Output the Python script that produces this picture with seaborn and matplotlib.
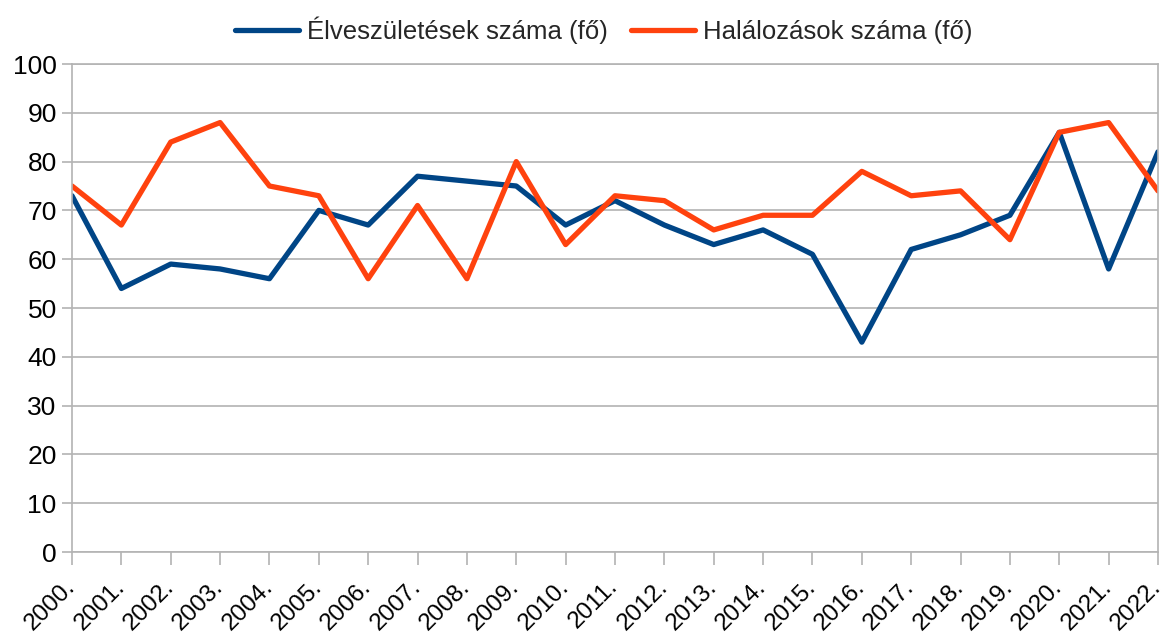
import matplotlib
matplotlib.use("Agg")
import matplotlib.pyplot as plt
import matplotlib.transforms as mtransforms
import seaborn as sns
import pandas as pd

years = [f"{y}." for y in range(2000, 2023)]
births = [73, 54, 59, 58, 56, 70, 67, 77, 76, 75, 67, 72, 67, 63, 66, 61, 43, 62, 65, 69, 86, 58, 82]
deaths = [75, 67, 84, 88, 75, 73, 56, 71, 56, 80, 63, 73, 72, 66, 69, 69, 78, 73, 74, 64, 86, 88, 74]
series_names = ["Élveszületések száma (fő)", "Halálozások száma (fő)"]
colors = ["#004586", "#ff420e"]

df = pd.DataFrame({
    "idx": list(range(len(years))) * 2,
    "value": births + deaths,
    "series": [series_names[0]] * len(years) + [series_names[1]] * len(years),
})

sns.set_theme(style="white")
plt.rcParams["font.family"] = ["Liberation Sans", "DejaVu Sans"]

fig = plt.figure(figsize=(11.65, 6.37), dpi=100)
ax = fig.add_axes([72 / 1165, 1 - 552 / 637, (1158 - 72) / 1165, (552 - 64) / 637])

sns.lineplot(data=df, x="idx", y="value", hue="series", palette=colors,
             linewidth=3.8, ax=ax, legend=False)

ax.set_xlim(0, len(years) - 1)
ax.set_ylim(0, 100)
ax.set_yticks(range(0, 101, 10))
ax.set_xticks(range(len(years)))
ax.set_xticklabels(years, rotation=45, ha="right", rotation_mode="anchor")
ax.set_xlabel("")
ax.set_ylabel("")

grid_color = "#b3b3b3"
ax.yaxis.grid(True, color=grid_color, linewidth=1.2)
ax.xaxis.grid(False)
for side in ["left", "right", "top", "bottom"]:
    ax.spines[side].set_visible(True)
    ax.spines[side].set_color(grid_color)
    ax.spines[side].set_linewidth(1.2)
ax.tick_params(axis="y", which="major", direction="out", length=7, width=1.2,
               color=grid_color, labelsize=19, pad=4, left=True)
ax.tick_params(axis="x", which="major", direction="out", length=9, width=1.2,
               color=grid_color, labelsize=17.5, pad=8, bottom=True)
for lab in ax.get_xticklabels() + ax.get_yticklabels():
    lab.set_color("#000000")

# nudge the slanted year labels a little to the left of their ticks
shift = mtransforms.ScaledTranslation(-8 / 100, 0, fig.dpi_scale_trans)
for lab in ax.get_xticklabels():
    lab.set_transform(lab.get_transform() + shift)

handles = [plt.Line2D([0], [0], color=c, linewidth=3.8) for c in colors]
fig.legend(handles, series_names, loc="upper center", bbox_to_anchor=(0.518, 1.01),
           ncol=2, frameon=False, fontsize=18.5, handlelength=2.5, handletextpad=0.3,
           columnspacing=0.9)

fig.savefig("out.png", dpi=100)
